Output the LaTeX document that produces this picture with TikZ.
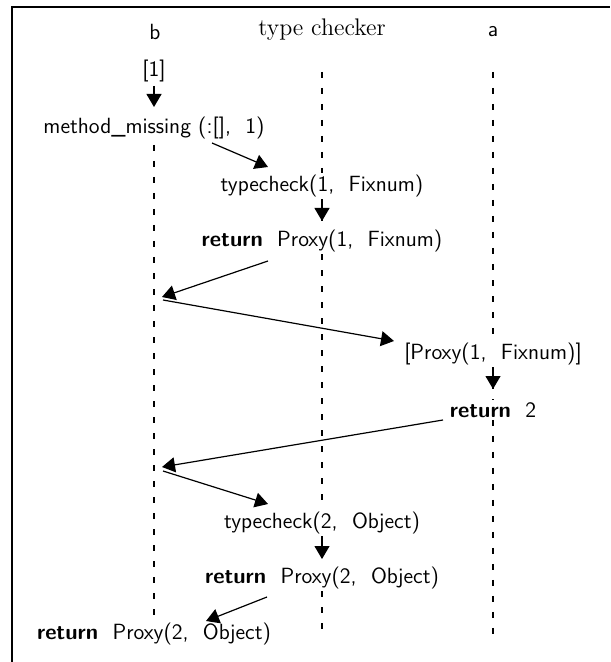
\documentclass[tikz,border=0pt]{standalone}
\usetikzlibrary{arrows.meta}
\begin{document}
\begin{tikzpicture}[x=0.5pt,y=-0.5pt,
  lbl/.style={font=\fontsize{11}{13}\selectfont\sffamily, inner sep=1pt},
  head/.style={font=\fontsize{11}{13}\selectfont\sffamily, inner sep=1pt},
  headserif/.style={font=\fontsize{12}{14}\selectfont\rmfamily, inner sep=1pt},
  life/.style={line width=0.6pt, dash pattern=on 3pt off 5pt},
  msg/.style={line width=0.6pt, -{Triangle[length=6.5pt,width=7.5pt]}},
  frame/.style={line width=1pt}]
\useasboundingbox (0,0) rectangle (610,662);
% frame (top and left sides)
\draw[frame] (12,662) -- (12,7) -- (610,7);
% headers
\node[head] (hb) at (155,32) {b};
\node[headserif] (ht) at (322,30) {type checker};
\node[head] (ha) at (493,32) {a};
% labels
\node[lbl] (one) at (154,71) {[1]};
\node[lbl] (mm) at (154,128) {method\_missing (:[],\ \ 1)};
\node[lbl] (tc1) at (322,186) {typecheck(1,\ \ Fixnum)};
\node[lbl] (rp1) at (322,241) {\textbf{return}\ \ Proxy(1,\ \ Fixnum)};
\node[lbl] (pr1) at (493,354) {[Proxy(1,\ \ Fixnum)]};
\node[lbl] (r2) at (493,410) {\textbf{return}\ \ 2};
\node[lbl] (tc2) at (322,523) {typecheck(2,\ \ Object)};
\node[lbl] (rp2) at (322,578) {\textbf{return}\ \ Proxy(2,\ \ Object)};
\node[lbl] (rp3) at (154,634) {\textbf{return}\ \ Proxy(2,\ \ Object)};
% lifelines (interrupted by the labels)
\coordinate (bL1) at (154,145);
\coordinate (bL2) at (154,616);
\coordinate (tL1) at (322,72);
\coordinate (tL2) at (322,637);
\coordinate (aL1) at (493,72);
\coordinate (aL2) at (493,637);
\draw[life] (bL1) -- (bL2);
\draw[life] (tL1) -- (tL1 |- tc1.north);
\draw[life] (tL1 |- tc1.south) -- (tL1 |- rp1.north);
\draw[life] (tL1 |- rp1.south) -- (tL1 |- tc2.north);
\draw[life] (tL1 |- tc2.south) -- (tL1 |- rp2.north);
\draw[life] (tL1 |- rp2.south) -- (tL2);
\draw[life] (aL1) -- (aL1 |- pr1.north);
\draw[life] (aL1 |- pr1.south) -- (aL1 |- r2.north);
\draw[life] (aL1 |- r2.south) -- (aL2);
% arrow end points
\coordinate (a1s) at (154,86);   \coordinate (a1e) at (154,107);
\coordinate (a2s) at (212,143);  \coordinate (a2e) at (268,167);
\coordinate (a3s) at (322,200);  \coordinate (a3e) at (322,221);
\coordinate (a4s) at (268,261);  \coordinate (a4e) at (162,297);
\coordinate (a5s) at (163,300);  \coordinate (a5e) at (394,341);
\coordinate (a6s) at (493,368);  \coordinate (a6e) at (493,389);
\coordinate (a7s) at (443,420);  \coordinate (a7e) at (162,467);
\coordinate (a8s) at (163,471);  \coordinate (a8e) at (268,504);
\coordinate (a9s) at (322,538);  \coordinate (a9e) at (322,559);
\coordinate (a10s) at (267,597); \coordinate (a10e) at (206,621);
\draw[msg] (a1s) -- (a1e);
\draw[msg] (a2s) -- (a2e);
\draw[msg] (a3s) -- (a3e);
\draw[msg] (a4s) -- (a4e);
\draw[msg] (a5s) -- (a5e);
\draw[msg] (a6s) -- (a6e);
\draw[msg] (a7s) -- (a7e);
\draw[msg] (a8s) -- (a8e);
\draw[msg] (a9s) -- (a9e);
\draw[msg] (a10s) -- (a10e);
\end{tikzpicture}
\end{document}
